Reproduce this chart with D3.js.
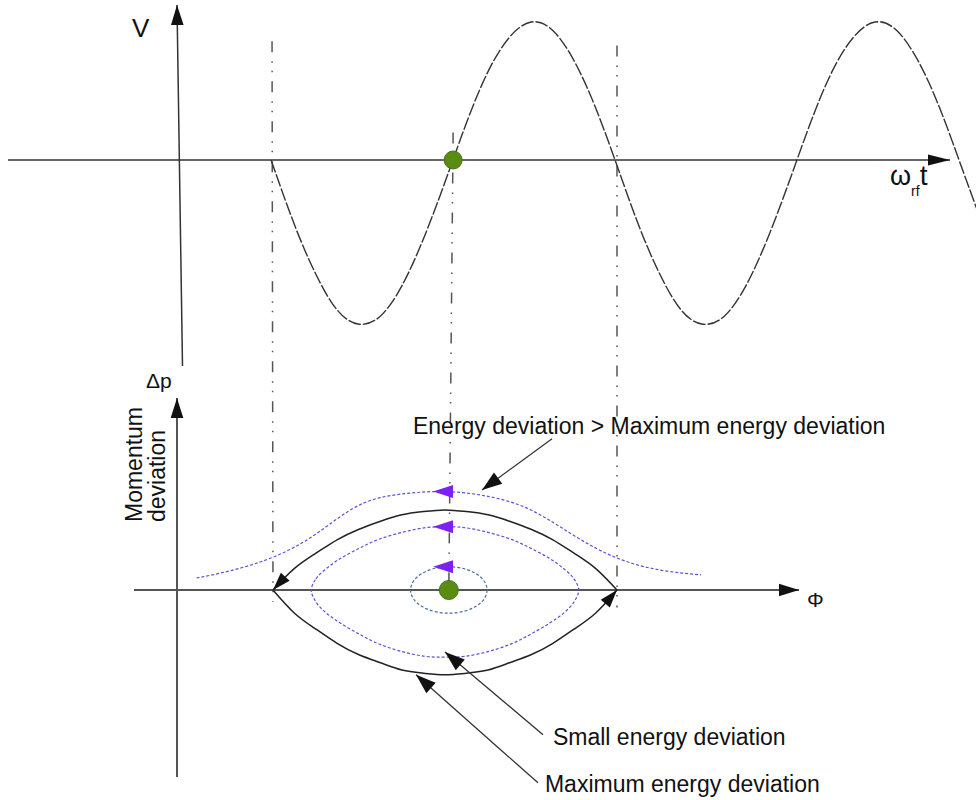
<!DOCTYPE html>
<html>
<head>
<meta charset="utf-8">
<script src="https://cdn.jsdelivr.net/npm/d3@7"></script>
<style>
  html, body { margin: 0; padding: 0; background: #fff; }
  svg { display: block; font-family: "Liberation Sans", Arial, sans-serif; }
</style>
</head>
<body>
<svg id="chart" width="976" height="800"></svg>
<script>
// ---- RF voltage along the phase axis (degrees of RF phase) ----
const rfPhase   = [-182, -157.5, -135, -112.5, -90, -67.5, -45, -22.5, 0, 22.5, 45, 67.5, 90, 112.5, 135, 157.5, 180,
                   202.5, 225, 247.5, 270, 292.5, 315, 337.5, 360, 382.5, 405, 427.5, 450, 472.5, 495, 517.5, 540, 560];
const rfVoltage = [0, -0.47, -0.83, -1.09, -1.19, -1.13, -0.91, -0.57, -0.16, 0.27, 0.64, 0.89, 1.00, 0.94, 0.72, 0.38, -0.04,
                   -0.47, -0.83, -1.09, -1.19, -1.13, -0.91, -0.57, -0.16, 0.27, 0.64, 0.89, 1.00, 0.94, 0.72, 0.38, -0.04, -0.42];

// ---- Separatrix (bucket boundary) ----
const sepPhase = [-180, -157.5, -135, -112.5, -90, -67.5, -45, -22.5, 0, 22.5, 45, 67.5, 90, 112.5, 135, 157.5, 180];
const sepUpper = [0, 0.27, 0.46, 0.63, 0.76, 0.86, 0.94, 0.98, 1.00, 0.98, 0.94, 0.86, 0.76, 0.63, 0.46, 0.27, 0];
const sepLower = [0, -0.29, -0.49, -0.67, -0.81, -0.91, -1.00, -1.04, -1.06, -1.04, -1.00, -0.91, -0.81, -0.67, -0.49, -0.29, 0];

// ---- Bound orbit with small energy deviation ----
const innerPhase = [-140, -135, -125, -110, -90, -70, -45, -20, 0, 20, 45, 70, 90, 110, 125, 135, 140];
const innerUpper = [0, 0.14, 0.26, 0.39, 0.52, 0.63, 0.72, 0.78, 0.79, 0.78, 0.72, 0.63, 0.52, 0.39, 0.26, 0.14, 0];
const innerLower = [0, -0.15, -0.28, -0.41, -0.55, -0.67, -0.77, -0.83, -0.84, -0.83, -0.77, -0.67, -0.55, -0.41, -0.28, -0.15, 0];

// ---- Unbound trajectory above the bucket ----
const outerPhase = [-260, -225, -180, -135, -90, -45, 0, 45, 90, 135, 180, 225, 268];
const outerDp    = [0.15, 0.24, 0.41, 0.70, 1.06, 1.20, 1.23, 1.17, 1.00, 0.68, 0.40, 0.25, 0.19];

// ---- Tiny orbit around the synchronous particle: centre and half-axes ----
const corePhase = 4, coreHalfPhase = 40, coreHalfDp = 0.29;

// ---- Synchronous particle ----
const syncPhaseTop = 8.5, syncPhaseBottom = 4;

// ---- Vertical guides linking both panels ----
const guidePhaseTop    = [-181, 8.5, 180];
const guidePhaseBottom = [-180, 4, 180];
const guideTopV        = [0.86, 0.20, 0.83];
const guideBottomDp    = [-0.15, 0, -0.22];

// ---- Direction-of-motion arrows on each orbit ----
const flowPhase = -2;
const flowDp    = [1.23, 0.79, 0.29];

// ---- Annotations ----
const noteText  = ["Energy deviation > Maximum energy deviation", "Small energy deviation", "Maximum energy deviation"];
const noteAt    = [[-33.5, 1.95], [113, -1.94], [104.6, -2.52]];
const noteTail  = [[112, 1.89], [102.6, -1.81], [97.3, -2.41]];
const noteTip   = [[38.7, 1.25], [0, -0.775], [-30.3, -1.06]];

// ---------------------------------------------------------------
const svg = d3.select("#chart");

const x    = d3.scaleLinear().domain([-180, 180]).range([273, 617]);
const yTop = d3.scaleLinear().domain([-1.2, 1]).range([325.6, 22]);
const yBot = d3.scaleLinear().domain([-1, 1]).range([670, 510]);

// arrow-head markers
const defs = svg.append("defs");
function marker(id, len, half, color, orient) {
  defs.append("marker")
    .attr("id", id)
    .attr("markerUnits", "userSpaceOnUse")
    .attr("orient", orient || "auto")
    .attr("refX", 0).attr("refY", 0)
    .attr("markerWidth", 1).attr("markerHeight", 1)
    .style("overflow", "visible")
    .append("path")
    .attr("d", `M${-len},${-half}L0,0L${-len},${half}Z`)
    .attr("fill", color);
}
marker("axisHeadH", 22, 5.5, "#111");
marker("axisHead", 20, 6.3, "#111");
marker("sepHead", 18, 6, "#111");
marker("sepHeadStart", 18, 6, "#111", "auto-start-reverse");
marker("noteHead", 20, 7, "#111");

// ---- upper panel axes ----
svg.append("line")
  .attr("x1", 8).attr("y1", yTop(0)).attr("x2", 950).attr("y2", yTop(0))
  .attr("stroke", "#333").attr("stroke-width", 1.5)
  .attr("marker-end", "url(#axisHeadH)");
svg.append("line")
  .attr("x1", 182.5).attr("y1", 366).attr("x2", 177).attr("y2", 5)
  .attr("stroke", "#333").attr("stroke-width", 1.5)
  .attr("marker-end", "url(#axisHead)");

// ---- lower panel axes ----
svg.append("line")
  .attr("x1", 134).attr("y1", yBot(0)).attr("x2", 799).attr("y2", yBot(0))
  .attr("stroke", "#555").attr("stroke-width", 2)
  .attr("marker-end", "url(#axisHead)");
svg.append("line")
  .attr("x1", 177).attr("y1", 777).attr("x2", 177).attr("y2", 398)
  .attr("stroke", "#555").attr("stroke-width", 2)
  .attr("marker-end", "url(#axisHead)");

// ---- guides ----
svg.append("g").selectAll("line")
  .data(d3.range(guidePhaseTop.length))
  .join("line")
  .attr("x1", i => x(guidePhaseTop[i])).attr("y1", i => yTop(guideTopV[i]))
  .attr("x2", i => x(guidePhaseBottom[i])).attr("y2", i => yBot(guideBottomDp[i]))
  .attr("stroke", "#555").attr("stroke-width", 1.5)
  .attr("stroke-dasharray", "11,9,1.5,8,1.5,9");

// ---- RF voltage ----
const rfLine = d3.line().x(i => x(rfPhase[i])).y(i => yTop(rfVoltage[i])).curve(d3.curveNatural);
svg.append("path")
  .attr("d", rfLine(d3.range(rfPhase.length)))
  .attr("fill", "none").attr("stroke", "#333").attr("stroke-width", 1.4)
  .attr("stroke-dasharray", "13,2");

// ---- phase-space trajectories ----
const blue = "#5656d2";
const outerLine = d3.line().x(i => x(outerPhase[i])).y(i => yBot(outerDp[i])).curve(d3.curveNatural);
svg.append("path")
  .attr("d", outerLine(d3.range(outerPhase.length)))
  .attr("fill", "none").attr("stroke", blue).attr("stroke-width", 1.2)
  .attr("stroke-dasharray", "3,2");

// inner closed orbit: upper branch left->right then lower branch back
const innerPts = innerPhase.map((p, i) => [p, innerUpper[i]])
  .concat(innerPhase.slice(1, -1).map((p, i) => [p, innerLower[i + 1]]).reverse());
const closedLine = d3.line().x(d => x(d[0])).y(d => yBot(d[1])).curve(d3.curveCatmullRomClosed.alpha(0.5));
svg.append("path")
  .attr("d", closedLine(innerPts))
  .attr("fill", "none").attr("stroke", blue).attr("stroke-width", 1.2)
  .attr("stroke-dasharray", "3,2");

svg.append("ellipse")
  .attr("cx", x(corePhase)).attr("cy", yBot(0))
  .attr("rx", x(corePhase + coreHalfPhase) - x(corePhase))
  .attr("ry", yBot(0) - yBot(coreHalfDp))
  .attr("fill", "none").attr("stroke", "#4a6fa0").attr("stroke-width", 1.2)
  .attr("stroke-dasharray", "3,2");

// separatrix: motion runs right->left on the upper branch, left->right on the lower
const sepLine = d3.line().x(d => x(d[0])).y(d => yBot(d[1])).curve(d3.curveNatural);
svg.append("path")
  .attr("d", sepLine(sepPhase.map((p, i) => [p, sepUpper[i]])))
  .attr("fill", "none").attr("stroke", "#222").attr("stroke-width", 1.5)
  .attr("marker-start", "url(#sepHeadStart)");
svg.append("path")
  .attr("d", sepLine(sepPhase.map((p, i) => [p, sepLower[i]])))
  .attr("fill", "none").attr("stroke", "#222").attr("stroke-width", 1.5)
  .attr("marker-end", "url(#sepHead)");

// direction arrows
svg.append("g").selectAll("path")
  .data(flowDp)
  .join("path")
  .attr("transform", d => `translate(${x(flowPhase)},${yBot(d)})`)
  .attr("d", "M-10,0L10,-6.5L10,6.5Z")
  .attr("fill", "#7b22f2");

// synchronous particle
svg.append("circle")
  .attr("cx", x(syncPhaseTop)).attr("cy", yTop(0)).attr("r", 9)
  .attr("fill", "#5b8c12").attr("stroke", "#446e2a").attr("stroke-width", 1);
svg.append("circle")
  .attr("cx", x(syncPhaseBottom)).attr("cy", yBot(0)).attr("r", 9.5)
  .attr("fill", "#5b8c12").attr("stroke", "#446e2a").attr("stroke-width", 1);

// ---- annotations ----
svg.append("g").selectAll("line")
  .data(d3.range(noteText.length))
  .join("line")
  .attr("x1", i => x(noteTail[i][0])).attr("y1", i => yBot(noteTail[i][1]))
  .attr("x2", i => x(noteTip[i][0])).attr("y2", i => yBot(noteTip[i][1]))
  .attr("stroke", "#333").attr("stroke-width", 1.3)
  .attr("marker-end", "url(#noteHead)");
svg.append("g").selectAll("text")
  .data(d3.range(noteText.length))
  .join("text")
  .attr("x", i => x(noteAt[i][0])).attr("y", i => yBot(noteAt[i][1]))
  .attr("font-size", 23).attr("fill", "#111")
  .text(i => noteText[i]);

// ---- axis labels ----
svg.append("text").attr("x", 132).attr("y", 37).attr("font-size", 26).attr("fill", "#111").text("V");

const wt = svg.append("text").attr("x", 890).attr("y", 185).attr("fill", "#111");
wt.append("tspan").attr("font-size", 27).text("ω");
wt.append("tspan").attr("font-size", 14).attr("dy", 11).text("rf");
wt.append("tspan").attr("font-size", 28).attr("dy", -11).text("t");

svg.append("text").attr("x", 146).attr("y", 388).attr("font-size", 21).attr("fill", "#111").text("Δp");

const md = svg.append("g").attr("transform", "translate(142,522) rotate(-90)");
md.append("text").attr("x", 0).attr("y", 0).attr("font-size", 23).attr("fill", "#111").text("Momentum");
md.append("text").attr("x", 0).attr("y", 23).attr("font-size", 23).attr("fill", "#111").text("deviation");

svg.append("text").attr("x", 807).attr("y", 607).attr("font-size", 21).attr("fill", "#111").text("Φ");
</script>
</body>
</html>
